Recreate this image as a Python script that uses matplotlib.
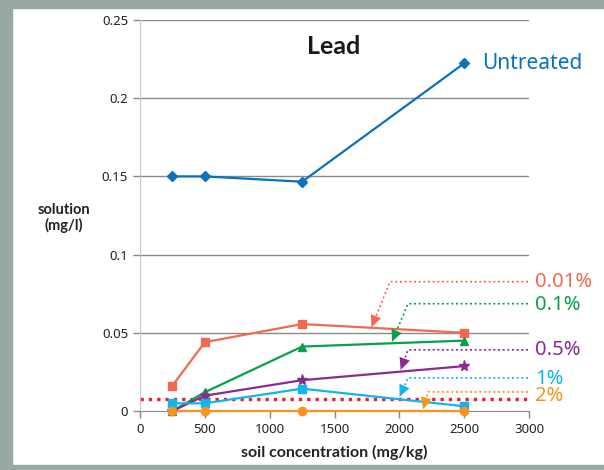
import matplotlib
matplotlib.use("Agg")
import matplotlib.pyplot as plt
from matplotlib.patches import Rectangle, Polygon
import numpy as np

plt.rcParams['font.family'] = ['Noto Sans', 'DejaVu Sans']
BOLD = ['Lato', 'DejaVu Sans']

# ---- data ----
soil = [250, 500, 1250, 2500]
untreated = [0.150, 0.150, 0.1466, 0.2223]
p001 = [0.0162, 0.0440, 0.0556, 0.0500]
p01 = [0.0000, 0.0120, 0.0412, 0.0450]
p05 = [0.0000, 0.0098, 0.0197, 0.0287]
p1 = [0.0049, 0.0049, 0.0143, 0.0030]
p2 = [0.0000, 0.0000, 0.0000, 0.0000]
limit = 0.0077
xticks = [0, 500, 1000, 1500, 2000, 2500, 3000]
yticks = [0, 0.05, 0.1, 0.15, 0.2, 0.25]
ytick_labels = ["0", "0.05", "0.1", "0.15", "0.2", "0.25"]

# annotation geometry (data units): corner x, line y, arrow tip (x, y), label y
ann = {
    "0.01%": (1928, 0.0827, 1785, 0.0535, 0.0827),
    "0.1%": (2067, 0.0686, 1943, 0.0442, 0.0680),
    "0.5%": (2067, 0.0391, 2010, 0.0262, 0.0388),
    "1%": (2067, 0.0212, 2002, 0.0090, 0.0207),
    "2%": (2221, 0.0122, 2183, 0.0010, 0.0093),
}

colors = {
    "Untreated": "#0a72bd",
    "0.01%": "#f26a4e",
    "0.1%": "#08a04c",
    "0.5%": "#8a2b8f",
    "1%": "#10b5ea",
    "2%": "#f7941d",
}

W, H = 604, 470
fig = plt.figure(figsize=(W / 100, H / 100), dpi=100)
fig.patch.set_facecolor("white")

# outer grey frame
border = "#9aa8a3"
fig.patches.append(Rectangle((0, 0), 12 / W, 1, transform=fig.transFigure, color=border, zorder=0))
fig.patches.append(Rectangle((0, 1 - 8 / H), 1, 8 / H, transform=fig.transFigure, color=border, zorder=0))
fig.patches.append(Rectangle((0, 0), 1, 5 / H, transform=fig.transFigure, color=border, zorder=0))

ax = fig.add_axes([140 / W, 1 - 411 / H, 389 / W, 391 / H])
ax.set_xlim(0, 3000)
ax.set_ylim(0, 0.25)
ax.set_xticks(xticks)
ax.set_yticks(yticks)
ax.set_yticklabels(ytick_labels)
ax.tick_params(axis='both', labelsize=9.5, colors="#888888", labelcolor="#222222",
               length=5, width=1, direction='out')
for s in ["top", "right"]:
    ax.spines[s].set_visible(False)
ax.spines["left"].set_color("#c8c8c8")
ax.spines["bottom"].set_color("#888888")
for yv in yticks[1:]:
    ax.axhline(yv, color="#8a8a8a", lw=1, zorder=1)

ax.axhline(limit, color="#e8202a", lw=2.4, ls=(0, (1, 1.5)), zorder=2)

ms = dict(markersize=6)
ax.plot(soil, untreated, color=colors["Untreated"], marker="D", lw=1.6, markersize=5.5, zorder=5, clip_on=False)
ax.plot(soil, p001, color=colors["0.01%"], marker="s", lw=1.6, zorder=5, clip_on=False, **ms)
ax.plot(soil, p01, color=colors["0.1%"], marker="^", lw=1.6, zorder=5, clip_on=False, **ms)
ax.plot(soil, p05, color=colors["0.5%"], marker="*", lw=1.6, markersize=8, zorder=5, clip_on=False)
ax.plot(soil, p1, color=colors["1%"], marker="s", lw=1.6, zorder=5, clip_on=False, **ms)
ax.plot(soil, p2, color=colors["2%"], marker="o", lw=1.6, zorder=6, clip_on=False, **ms)

ax.text(2637, untreated[-1], "Untreated", color=colors["Untreated"], fontsize=15,
        va="center", ha="left")

fig.canvas.draw()
to_px = ax.transData
to_data = ax.transData.inverted()
head_len, head_w = 12.0, 11.0  # pixels
for lab, (cx, ly, tx, ty, lab_y) in ann.items():
    c = colors[lab]
    corner = np.array(to_px.transform((cx, ly)))
    tip = np.array(to_px.transform((tx, ty)))
    d = tip - corner
    d = d / np.hypot(*d)
    nrm = np.array([-d[1], d[0]])
    base = tip - d * head_len
    base_d = to_data.transform(base)
    ax.plot([2992, cx, base_d[0]], [ly, ly, base_d[1]], color=c, lw=1.2,
            ls=(0, (1.2, 1.6)), clip_on=False, zorder=7)
    pts = np.array([tip, base + nrm * head_w / 2, base - nrm * head_w / 2])
    pts_d = to_data.transform(pts)
    ax.add_patch(Polygon(pts_d, closed=True, facecolor=c, edgecolor='none',
                         zorder=8, clip_on=False))
    ax.text(3050, lab_y, lab, color=c, fontsize=14.5, va="center", ha="left", clip_on=False)

fig.text(334 / W, 1 - 47 / H, "Lead", fontsize=18, fontweight="bold", family=BOLD,
         ha="center", va="center", color="#1a1a1a")
fig.text(64 / W, 1 - 218 / H, "solution\n(mg/l)", fontsize=10.5, fontweight="bold", family=BOLD,
         ha="center", va="center", color="#222222", linespacing=1.15)
fig.text(334 / W, 1 - 452 / H, "soil concentration (mg/kg)", fontsize=11.5,
         fontweight="bold", family=BOLD, ha="center", va="center", color="#222222")

fig.savefig("out.png", dpi=100)
